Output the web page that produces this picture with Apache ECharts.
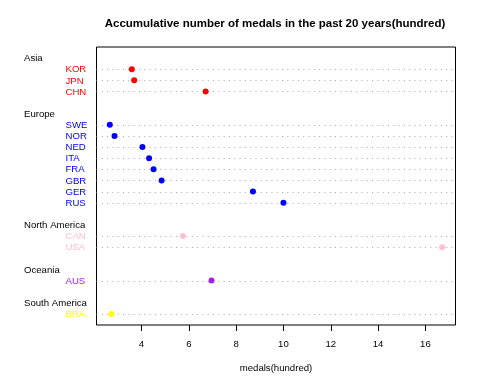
<!DOCTYPE html>
<html><head><meta charset="utf-8">
<script src="https://cdn.jsdelivr.net/npm/echarts@6/dist/echarts.min.js"></script>
<style>html,body{margin:0;padding:0;background:#fff}#c{width:480px;height:384px}</style>
</head><body><div id="c"></div>
<script>
const regions = ['Asia', 'Europe', 'North America', 'Oceania', 'South America'];
const regionColors = ['#FF0000', '#0000FF', '#FFC0CB', '#A020F0', '#FFFF00'];
const countries = ['KOR', 'JPN', 'CHN', 'SWE', 'NOR', 'NED', 'ITA', 'FRA', 'GBR', 'GER', 'RUS', 'CAN', 'USA', 'AUS', 'BRA'];
const countryRegion = ['Asia', 'Asia', 'Asia', 'Europe', 'Europe', 'Europe', 'Europe', 'Europe', 'Europe', 'Europe', 'Europe', 'North America', 'North America', 'Oceania', 'South America'];
const medals = [3.59, 3.69, 6.71, 2.66, 2.86, 4.04, 4.32, 4.51, 4.85, 8.71, 10.0, 5.75, 16.71, 6.96, 2.73];
const xTicks = [4, 6, 8, 10, 12, 14, 16];
const titleText = 'Accumulative number of medals in the past 20 years(hundred)';
const xAxisTitle = 'medals(hundred)';

// dotchart-style row layout: bottom group first, one header line and one gap line per group
const itemRow = new Array(countries.length);
const headerRow = {};
let r = 0;
for (let g = regions.length - 1; g >= 0; g--) {
  const idx = countries.map((c, i) => i).filter(i => countryRegion[i] === regions[g]);
  for (let k = idx.length - 1; k >= 0; k--) { r++; itemRow[idx[k]] = r; }
  r++; headerRow[regions[g]] = r;
  r++;
}
const yMax = r;
const lo = Math.min(...medals), hi = Math.max(...medals), span = hi - lo;
const xMin = lo - 0.04 * span, xMax = hi + 0.04 * span;

const font = '"Liberation Sans", Arial, Helvetica, sans-serif';
const colorOf = i => regionColors[regions.indexOf(countryRegion[i])];

const chart = echarts.init(document.getElementById('c'), null, { renderer: 'canvas' });
chart.setOption({
  animation: false,
  backgroundColor: '#fff',
  graphic: [{
    type: 'text', x: 275, y: 24,
    style: { text: titleText, font: 'bold 11.5px ' + font, fill: '#000', align: 'center', verticalAlign: 'middle' }
  }],
  grid: { left: 96.5, right: 24.5, top: 47, bottom: 59, show: true, borderColor: '#000', borderWidth: 1, backgroundColor: 'transparent' },
  xAxis: {
    type: 'value', min: xMin, max: xMax,
    axisLine: { show: false },
    splitLine: { show: false },
    axisTick: { show: true, customValues: xTicks, length: 6, lineStyle: { color: '#000', width: 1 } },
    axisLabel: { customValues: xTicks, fontSize: 9.6, fontFamily: font, color: '#000', margin: 14 },
    name: xAxisTitle, nameLocation: 'middle', nameGap: 38,
    nameTextStyle: { fontSize: 9.6, fontFamily: font, color: '#000' }
  },
  yAxis: { type: 'value', min: 0, max: yMax, show: false },
  series: [
    {
      type: 'custom', silent: true, z: 1,
      data: countries.map((c, i) => [xMin, itemRow[i]]),
      renderItem: (params, api) => {
        const cs = params.coordSys;
        const y = Math.round(api.coord([xMin, api.value(1)])[1]) + 0.5;
        return { type: 'line', shape: { x1: cs.x, y1: y, x2: cs.x + cs.width, y2: y },
          style: { stroke: '#a8a8a8', lineWidth: 1, lineDash: [1, 4.3] } };
      }
    },
    {
      type: 'scatter', z: 3, symbol: 'circle', symbolSize: 6,
      data: countries.map((c, i) => ({ value: [medals[i], itemRow[i]], itemStyle: { color: colorOf(i), opacity: 1 } }))
    },
    {
      type: 'custom', silent: true, clip: false, z: 2,
      data: countries.map((c, i) => [xMin, itemRow[i], i]),
      renderItem: (params, api) => {
        const cs = params.coordSys;
        const i = api.value(2);
        const y = api.coord([xMin, api.value(1)])[1] + 0.5;
        return { type: 'text', style: { text: countries[i], x: cs.x - 31, y: y, fill: colorOf(i), font: '9.6px ' + font, align: 'left', verticalAlign: 'middle' } };
      }
    },
    {
      type: 'custom', silent: true, clip: false, z: 2,
      data: regions.map((g, k) => [xMin, headerRow[g], k]),
      renderItem: (params, api) => {
        const cs = params.coordSys;
        const k = api.value(2);
        const y = api.coord([xMin, api.value(1)])[1] + 0.5;
        return { type: 'text', style: { text: regions[k], x: cs.x - 72.5, y: y, fill: '#000', font: '9.6px ' + font, align: 'left', verticalAlign: 'middle' } };
      }
    }
  ]
});
</script></body></html>
